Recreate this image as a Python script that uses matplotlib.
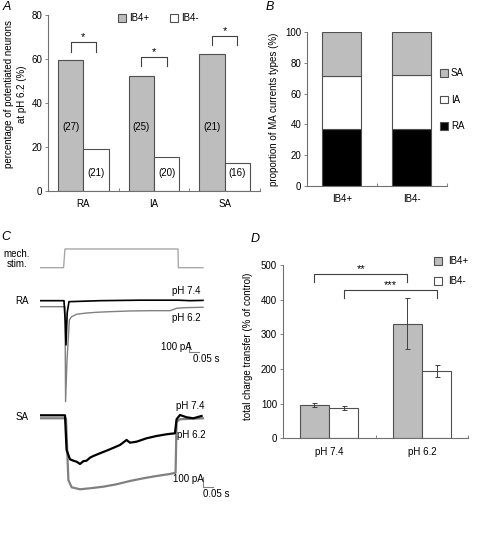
import matplotlib
matplotlib.use('Agg')
import matplotlib.pyplot as plt

plt.rcParams['font.family'] = ['Liberation Sans', 'DejaVu Sans']
plt.rcParams['font.size'] = 7

# --- panel A data
a_types = ['RA', 'IA', 'SA']
a_pos = [59.4, 52.2, 62.1]
a_neg = [19.1, 15.3, 12.7]
a_n_pos = ['(27)', '(25)', '(21)']
a_n_neg = ['(21)', '(20)', '(16)']
a_brk_top = [67.7, 60.7, 70.4]
a_brk_leg = [63.3, 56.8, 66.3]

# --- panel B data
b_groups = ['IB4+', 'IB4-']
b_ra = [37.0, 36.8]
b_ia = [34.2, 35.1]
b_sa = [28.8, 28.1]

# --- panel C data (t in s, current in pA, traces offset for display)
stim_t = [0.0, 0.118, 0.125, 0.69, 0.692, 0.815]
stim_v = [330, 330, 517, 517, 330, 330]

ra74_t = [0.0, 0.12, 0.126, 0.13, 0.136, 0.145, 0.3, 0.5, 0.69, 0.75, 0.815]
ra74_v = [0, 0, -200, -443, -120, -10, 0, 5, 5, 0, 3]

ra62_t = [0.0, 0.125, 0.128, 0.135, 0.147, 0.158, 0.183, 0.225, 0.283, 0.35,
          0.45, 0.55, 0.65, 0.683, 0.725, 0.815]
ra62_v = [-60, -60, -1010, -600, -193, -160, -136, -125, -116, -110,
          -103, -100, -100, -76, -70, -66]

sa74_t = [0.0, 0.125, 0.133, 0.15, 0.167, 0.183, 0.2, 0.217, 0.233, 0.25, 0.267, 0.3,
          0.35, 0.4, 0.433, 0.45, 0.483, 0.533, 0.583, 0.633, 0.675, 0.683, 0.7,
          0.733, 0.767, 0.808]
sa74_v = [-1146, -1146, -1493, -1586, -1600, -1610, -1633, -1605, -1600, -1570, -1553, -1526,
          -1486, -1443, -1393, -1420, -1410, -1376, -1353, -1336, -1326, -1186, -1143,
          -1166, -1176, -1153]

sa62_t = [0.0, 0.13, 0.142, 0.158, 0.2, 0.25, 0.317, 0.383, 0.45, 0.517, 0.583,
          0.65, 0.678, 0.683, 0.7, 0.815]
sa62_v = [-1176, -1176, -1793, -1866, -1886, -1876, -1860, -1836, -1803, -1776, -1753,
          -1733, -1720, -1210, -1186, -1176]

# --- panel D data
d_conds = ['pH 7.4', 'pH 6.2']
d_pos = [96, 331]
d_pos_err = [5, 73]
d_neg = [87, 195]
d_neg_err = [5, 17]

gray = '#bdbdbd'
edge = '#505050'
spine = '#707070'

fig = plt.figure(figsize=(4.8, 5.34), dpi=100)


def style_axes(ax):
    for s in ['top', 'right']:
        ax.spines[s].set_visible(False)
    for s in ['left', 'bottom']:
        ax.spines[s].set_color(spine)
        ax.spines[s].set_linewidth(0.8)
    ax.tick_params(axis='y', length=2, width=0.6, color=spine, pad=2)
    ax.tick_params(axis='x', which='major', length=0, pad=6)
    ax.tick_params(axis='x', which='minor', length=2.5, width=0.6, color=spine, direction='in')


def bracket(ax, x0, x1, top, leg, label):
    ax.plot([x0, x0, x1, x1], [leg, top, top, leg], color='#404040', lw=0.8)
    ax.text((x0 + x1) / 2, top, label, ha='center', va='bottom', fontsize=8)


# ---------------- A
axA = fig.add_axes([0.1, 0.6429, 0.4417, 0.329])
xa = list(range(len(a_types)))
w = 0.36
axA.bar([x - w / 2 for x in xa], a_pos, w, color=gray, edgecolor=edge, lw=0.8, label='IB4+')
axA.bar([x + w / 2 for x in xa], a_neg, w, color='white', edgecolor=edge, lw=0.8, label='IB4-')
for i in xa:
    axA.text(i - w / 2, 29, a_n_pos[i], ha='center', va='center')
    axA.text(i + w / 2, 8, a_n_neg[i], ha='center', va='center')
    bracket(axA, i - w / 2, i + w / 2, a_brk_top[i], a_brk_leg[i], '*')
axA.set_xlim(-0.5, 2.5)
axA.set_ylim(0, 80)
axA.set_yticks(range(0, 81, 20))
axA.set_xticks(xa)
axA.set_xticklabels(a_types)
axA.set_xticks([0.5, 1.5, 2.5], minor=True)
style_axes(axA)
axA.set_ylabel('percentage of potentiated neurons\nat pH 6.2 (%)', linespacing=1.4)
axA.yaxis.set_label_coords(-0.1, 0.55)
axA.legend(loc='upper left', bbox_to_anchor=(0.29, 1.06), ncol=2, frameon=False,
           handlelength=0.8, handleheight=0.8, handletextpad=0.3, columnspacing=2.2)

# ---------------- B
axB = fig.add_axes([0.639, 0.6522, 0.2917, 0.2873])
xb = list(range(len(b_groups)))
wb = 0.56
bot2 = [r + i for r, i in zip(b_ra, b_ia)]
axB.bar(xb, b_ra, wb, color='black', edgecolor=edge, lw=0.8, label='RA')
axB.bar(xb, b_ia, wb, bottom=b_ra, color='white', edgecolor=edge, lw=0.8, label='IA')
axB.bar(xb, b_sa, wb, bottom=bot2, color=gray, edgecolor=edge, lw=0.8, label='SA')
axB.set_xlim(-0.5, 1.5)
axB.set_ylim(0, 100)
axB.set_yticks(range(0, 101, 20))
axB.set_xticks(xb)
axB.set_xticklabels(b_groups)
axB.set_xticks([0.5, 1.5], minor=True)
style_axes(axB)
axB.set_ylabel('proportion of MA currents types (%)')
axB.yaxis.set_label_coords(-0.2, 0.5)
h, l = axB.get_legend_handles_labels()
axB.legend(h[::-1], l[::-1], loc='center left', bbox_to_anchor=(0.89, 0.56), frameon=False,
           handlelength=0.8, handleheight=0.8, handletextpad=0.3, labelspacing=1.7)

# ---------------- C
axC = fig.add_axes([0.0833, 0.0637, 0.3958, 0.4869])
axC.set_xlim(0, 0.95)
axC.set_ylim(-1993, 607)
axC.axis('off')
axC.plot(stim_t, stim_v, color='#a8a8a8', lw=1.0)
axC.plot(ra62_t, ra62_v, color='#808080', lw=1.0)
axC.plot(ra74_t, ra74_v, color='black', lw=1.2)
axC.plot(sa62_t, sa62_v, color='#808080', lw=1.6)
axC.plot(sa74_t, sa74_v, color='black', lw=1.6)
axC.text(-0.115, 417, 'mech.\nstim.', ha='center', va='center', linespacing=1.1)
axC.text(-0.09, 0, 'RA', ha='center', va='center')
axC.text(-0.09, -1160, 'SA', ha='center', va='center')
axC.text(0.733, 100, 'pH 7.4', ha='center', va='center')
axC.text(0.733, -170, 'pH 6.2', ha='center', va='center')
axC.text(0.7525, -1050, 'pH 7.4', ha='center', va='center')
axC.text(0.755, -1343, 'pH 6.2', ha='center', va='center')
# scale bars
axC.plot([0.7465, 0.7465, 0.7965], [-416, -516, -516], color='#808080', lw=0.8)
axC.text(0.683, -463, '100 pA', ha='center', va='center')
axC.text(0.829, -586, '0.05 s', ha='center', va='center')
axC.plot([0.8135, 0.8135, 0.8635], [-1760, -1860, -1860], color='#808080', lw=0.8)
axC.text(0.7415, -1783, '100 pA', ha='center', va='center')
axC.text(0.8835, -1933, '0.05 s', ha='center', va='center')

# ---------------- D
axD = fig.add_axes([0.589, 0.1792, 0.3867, 0.3245])
xd = list(range(len(d_conds)))
wd = 0.316
ek = dict(ecolor='#404040', elinewidth=0.7, capsize=1.8, capthick=0.7)
axD.bar([x - wd / 2 for x in xd], d_pos, wd, yerr=d_pos_err, color=gray, edgecolor=edge,
        lw=0.8, error_kw=ek, label='IB4+')
axD.bar([x + wd / 2 for x in xd], d_neg, wd, yerr=d_neg_err, color='white', edgecolor=edge,
        lw=0.8, error_kw=ek, label='IB4-')
bracket(axD, -wd / 2, 1 - wd / 2, 473, 451, '**')
bracket(axD, wd / 2, 1 + wd / 2, 428, 406, '***')
axD.set_xlim(-0.5, 1.5)
axD.set_ylim(0, 500)
axD.set_yticks(range(0, 501, 100))
axD.set_xticks(xd)
axD.set_xticklabels(d_conds)
axD.set_xticks([0.5, 1.5], minor=True)
style_axes(axD)
axD.set_ylabel('total charge transfer (% of control)')
axD.yaxis.set_label_coords(-0.16, 0.53)
axD.legend(loc='upper left', bbox_to_anchor=(0.77, 1.1), frameon=False,
           handlelength=0.8, handleheight=0.8, handletextpad=0.6, labelspacing=1.0)

# panel letters
for lab, x, y in [('A', 7, 7), ('B', 270, 7), ('C', 6, 237), ('D', 255, 239)]:
    fig.text(x / 480, 1 - y / 534, lab, fontsize=9, style='italic', ha='center', va='center')

fig.savefig('out.png', dpi=100)
